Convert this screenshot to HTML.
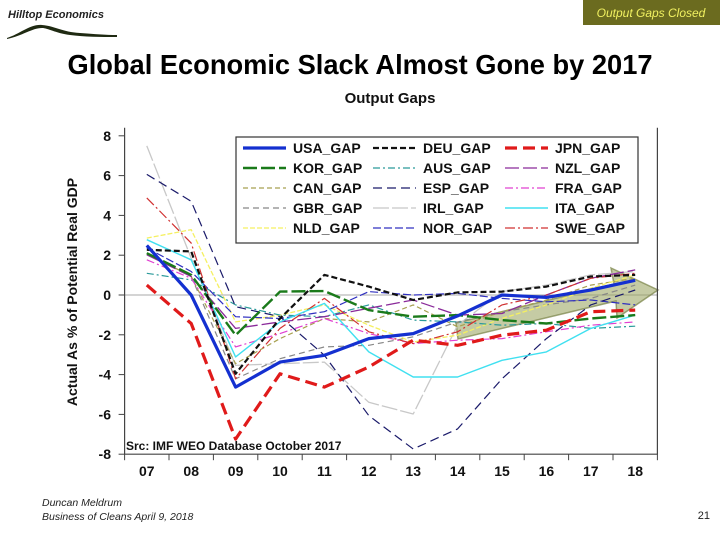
<!DOCTYPE html>
<html><head><meta charset="utf-8"><style>
html,body{margin:0;padding:0;background:#fff;}
svg{display:block;font-family:"Liberation Sans",Arial,sans-serif;}
</style></head><body>
<svg id="chart" width="720" height="540" viewBox="0 0 720 540">
  <g>
    <text x="8" y="18" font-size="11" font-weight="bold" font-style="italic" fill="#222">Hilltop Economics</text>
    <path d="M7,38 C20,34 30,24 42,25 C55,26 62,32 80,33 C95,34 105,35 117,35 L117,37 C100,37 85,37 70,35 C55,33 48,28 42,28 C32,28 22,36 7,39 Z" fill="#1f2a12"/>
  </g>
  <rect x="583" y="0" width="137" height="25" fill="#6b6b1f"/>
  <text x="651" y="17" font-size="12" font-style="italic" fill="#f0f060" text-anchor="middle">Output Gaps Closed</text>
  <text x="360" y="74" font-size="28" font-weight="bold" text-anchor="middle" textLength="585" lengthAdjust="spacingAndGlyphs" fill="#000">Global Economic Slack Almost Gone by 2017</text>
  <text x="390" y="103" font-size="15" font-weight="bold" text-anchor="middle" fill="#111">Output Gaps</text>
  <text transform="translate(77,292) rotate(-90)" font-size="14" font-weight="bold" text-anchor="middle" fill="#111">Actual As % of Potential Real GDP</text>
  <g id="plot"></g>
  <g id="legend"></g>
  <text x="42" y="506" font-size="10.5" font-style="italic" fill="#222">Duncan Meldrum</text>
  <text x="42" y="520" font-size="10.5" font-style="italic" fill="#222">Business of Cleans April 9, 2018</text>
  <text x="710" y="519" font-size="11" text-anchor="end" fill="#222">21</text>
</svg>
<script>
const years = ["07","08","09","10","11","12","13","14","15","16","17","18"];
const yTicks = [8,6,4,2,0,-2,-4,-6,-8];
const seriesNames = ["USA_GAP","DEU_GAP","JPN_GAP","KOR_GAP","AUS_GAP","NZL_GAP","CAN_GAP","ESP_GAP","FRA_GAP","GBR_GAP","IRL_GAP","ITA_GAP","NLD_GAP","NOR_GAP","SWE_GAP"];
const USA = [2.49,0,-4.63,-3.37,-3.03,-2.19,-1.94,-1.05,0,-0.12,0.25,0.74];
const DEU = [2.27,2.19,-3.96,-1.18,1.01,0.42,-0.25,0.13,0.17,0.42,0.93,1.01];
const JPN = [0.5,-1.43,-7.24,-3.96,-4.63,-3.62,-2.27,-2.53,-2.02,-1.77,-0.84,-0.76];
const KOR = [2.1,1.01,-2.02,0.17,0.2,-0.76,-1.09,-1.01,-1.26,-1.43,-1.18,-1.01];
const AUS = [1.09,0.76,-0.5,-1.01,-1.09,-0.5,-1.26,-1.35,-1.52,-1.43,-1.68,-1.57];
const NZL = [2.02,0.93,-1.68,-1.35,-1.09,-0.67,-0.25,-1.01,-0.93,0,0.84,1.26];
const CAN = [2.1,0.93,-3.45,-2.19,-1.18,-1.35,-0.5,-1.6,-0.84,-0.25,0.5,0.84];
const ESP = [6.06,4.71,-0.59,-1.09,-3.03,-6.06,-7.74,-6.73,-4.21,-2.19,-0.5,0.25];
const FRA = [1.77,0.84,-2.61,-1.94,-1.18,-1.94,-2.44,-2.27,-2.19,-1.85,-1.52,-1.35];
const GBR = [2.1,0.93,-4.21,-3.2,-2.61,-2.53,-2.1,-1.35,-0.84,-0.5,-0.17,0.5];
const IRL = [7.49,1.85,-3.54,-3.45,-3.37,-5.39,-5.98,-1.52,0.17,0.5,1.01,1.18];
const ITA = [2.78,1.77,-3.11,-1.35,-0.42,-2.86,-4.12,-4.12,-3.28,-2.86,-1.68,-1.01];
const NLD = [2.86,3.28,-1.35,-1.01,-0.5,-1.52,-2.36,-2.02,-1.18,-0.5,0.34,1.01];
const NOR = [2.36,1.18,-1.09,-1.18,-0.84,0.17,0,0.08,-0.17,-0.34,-0.25,-0.5];
const SWE = [4.88,2.61,-4.21,-1.68,-0.17,-1.85,-2.44,-1.85,-0.5,0,0.84,1.09];

const NS="http://www.w3.org/2000/svg";
const X0=124.6, STEP=44.4, Y0=295, UNIT=19.9;
const xs = i => X0 + STEP*(i+0.5);
const ys = v => Y0 - UNIT*v;
function mk(tag, attrs, parent){const e=document.createElementNS(NS,tag);for(const k in attrs)e.setAttribute(k,attrs[k]);parent.appendChild(e);return e;}
const plotG=document.getElementById('plot');
const legendG=document.getElementById('legend');
const pLeft=X0, pRight=X0+STEP*years.length, pTop=ys(8)-8, pBottom=ys(-8);

const zl=mk('line',{x1:pLeft,x2:pRight,y1:ys(0),y2:ys(0),stroke:'#aaa','stroke-width':1},plotG);



yTicks.forEach(t=>{
  const tk=mk('line',{x1:pLeft-6,x2:pLeft,y1:ys(t),y2:ys(t),stroke:'#444','stroke-width':1},plotG);
  
  
  const lb=mk('text',{x:111,y:ys(t)+5,'font-size':14,'font-weight':'bold','text-anchor':'end',fill:'#111'},plotG);
  lb.textContent=t;
  
  
});
for(let i=0;i<=years.length;i++){
  const tk=mk('line',{x1:X0+STEP*i,x2:X0+STEP*i,y1:pBottom,y2:pBottom+6,stroke:'#444','stroke-width':1},plotG);
  
  
}
years.forEach((yr,i)=>{
  const lb=mk('text',{x:xs(i),y:pBottom+22,'font-size':14,'font-weight':'bold','text-anchor':'middle',fill:'#111'},plotG);
  lb.textContent=yr;
  
  
});

const styles={
 USA:{c:'#1430d0',w:3.2,d:''},
 DEU:{c:'#111',w:2.2,d:'6,3'},
 JPN:{c:'#e01a1a',w:3.2,d:'12,6'},
 KOR:{c:'#1a7a1a',w:2.4,d:'14,4'},
 AUS:{c:'#2a9a9a',w:1.2,d:'7,3,2,3'},
 NZL:{c:'#8a2a9a',w:1.3,d:'14,4'},
 CAN:{c:'#a8a050',w:1.2,d:'5,3'},
 ESP:{c:'#1a1a6a',w:1.2,d:'9,5'},
 FRA:{c:'#e040d0',w:1.2,d:'8,3,2,3'},
 GBR:{c:'#888',w:1.2,d:'6,4'},
 IRL:{c:'#c8c8c8',w:1.3,d:'16,3'},
 ITA:{c:'#40e0f0',w:1.4,d:''},
 NLD:{c:'#f5f060',w:1.3,d:'5,2'},
 NOR:{c:'#3030c0',w:1.2,d:'8,3'},
 SWE:{c:'#d03030',w:1.2,d:'10,3,2,3'}
};
const seriesData={USA,DEU,JPN,KOR,AUS,NZL,CAN,ESP,FRA,GBR,IRL,ITA,NLD,NOR,SWE};

const arrow=mk('polygon',{points:'456,323 614,284 611,268 658,290 617,318 616,301 458,339',fill:'rgba(150,160,90,0.55)',stroke:'rgba(120,130,70,0.7)','stroke-width':1.5},plotG);



const drawOrder=["IRL","GBR","CAN","NLD","AUS","FRA","NZL","NOR","ESP","SWE","ITA","KOR","DEU","JPN","USA"];
drawOrder.forEach(k=>{
  const s=styles[k];
  const pts=seriesData[k].map((v,i)=>xs(i).toFixed(1)+','+ys(v).toFixed(1)).join(' ');
  const pl=mk('polyline',{points:pts,fill:'none',stroke:s.c,'stroke-width':s.w,'stroke-dasharray':s.d,'stroke-linejoin':'round'},plotG);
  
  
});

const fr=mk('path',{d:`M${pLeft},${pTop} L${pLeft},${pBottom} L${pRight},${pBottom} L${pRight},${pTop}`,fill:'none',stroke:'#444','stroke-width':1.2},plotG);


const src=mk('text',{x:126,y:450,'font-size':12,'font-weight':'bold',fill:'#111'},plotG);
src.textContent='Src: IMF WEO Database October 2017';



const lbox=mk('rect',{x:236,y:137,width:402,height:106,fill:'#fff',stroke:'#333','stroke-width':1.2},legendG);


const legOrder=["USA","DEU","JPN","KOR","AUS","NZL","CAN","ESP","FRA","GBR","IRL","ITA","NLD","NOR","SWE"];
const colX=[243,373,505];
legOrder.forEach((k,i)=>{
  const col=i%3,row=Math.floor(i/3);
  const s=styles[k];
  const yy=148+row*20;
  const ln=mk('line',{x1:colX[col],x2:colX[col]+43,y1:yy,y2:yy,stroke:s.c,'stroke-width':s.w,'stroke-dasharray':s.d},legendG);
  
  
  const t=mk('text',{x:colX[col]+50,y:yy+5,'font-size':14,'font-weight':'bold',fill:'#111'},legendG);
  t.textContent=k+'_GAP';
  
  
});
</script>
</body></html>
